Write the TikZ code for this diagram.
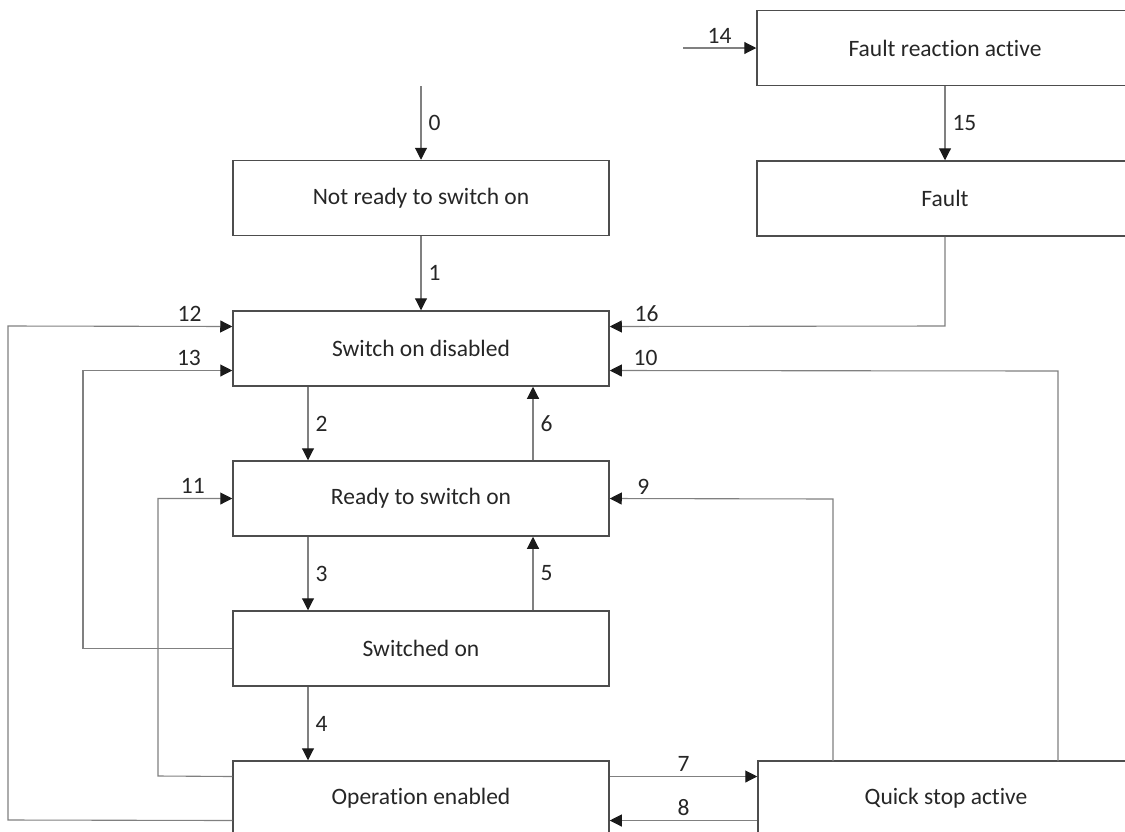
\documentclass[tikz,border=0pt]{standalone}
\usepackage{fontspec}
\setmainfont{Carlito}[Ligatures=NoCommon]
\usepackage{xcolor}
\usepackage{tikz}
\usetikzlibrary{arrows.meta,positioning,calc}
\definecolor{smbox}{HTML}{4D4D4D}
\definecolor{smline}{HTML}{808080}
\definecolor{smhead}{HTML}{1A1A1A}
\definecolor{smtext}{HTML}{262626}

\begin{document}
\begin{tikzpicture}[
  x=1pt,y=-1pt,
  every node/.style={font=\fontsize{23.5}{28}\selectfont,align=center,text=smtext},
  state/.style={draw=smbox,line width=1.5pt,minimum width=376pt,minimum height=75pt,inner sep=0pt},
  trans/.style={draw=smline,line width=1.1pt,-{Triangle[length=12pt,width=12pt,color=smhead]}},
  num/.style={inner sep=1pt}
]
\useasboundingbox (0,0) rectangle (1125,831);
% states
\node[state] (nrdy) at (421,198) {Not ready to switch on};
\node[state] (sod) at (421,348.5) {Switch on disabled};
\node[state] (rdy) at (421,498.5) {Ready to switch on};
\node[state] (swon) at (421,648.5) {Switched on};
\node[state] (opena) at (421,798.5) {Operation enabled};
\node[state] (fra) at (945,48) {Fault reaction active};
\node[state] (fault) at (945,198.5) {Fault};
\node[state] (qsa) at (946,798.5) {Quick stop active};
% free ends and columns
\coordinate (start0) at (421,86);
\coordinate (start14) at (683,48);
\coordinate (cdown) at (308,0);
\coordinate (cup) at (533,0);
% main chain
\draw[trans] (start0) -- node[right=6pt,num]{0} (nrdy.north);
\draw[trans] (nrdy.south) -- node[right=6pt,num]{1} (sod.north);
\draw[trans] (sod.south -| cdown) -- node[right=6pt,num]{2} (rdy.north -| cdown);
\draw[trans] (rdy.south -| cdown) -- node[right=6pt,num]{3} (swon.north -| cdown);
\draw[trans] (swon.south -| cdown) -- node[right=6pt,num]{4} (opena.north -| cdown);
\draw[trans] (swon.north -| cup) -- node[right=6pt,num]{5} (rdy.south -| cup);
\draw[trans] (rdy.north -| cup) -- node[right=6pt,num]{6} (sod.south -| cup);
\draw[trans] ([yshift=22pt]opena.east) -- node[above=3pt,num]{7} ([yshift=22pt]qsa.west);
\draw[trans] ([yshift=-22pt]qsa.west) -- node[above=3pt,num]{8} ([yshift=-22pt]opena.east);
% fault branch
\draw[trans] (start14) -- node[above=3pt,num]{14} (fra.west);
\draw[trans] (fra.south) -- node[right=6pt,num]{15} (fault.north);
\draw[trans] (fault.south) -- (945,326) -- node[above=3pt,pos=0.89,num]{16} ([yshift=22pt]sod.east);
% returns from quick stop
\draw[trans] (833,761) -- (833,499) -- node[above=3pt,pos=0.85,num]{9} (rdy.east);
\draw[trans] (1058,761) -- (1058,371) -- node[above=3pt,pos=0.92,num]{10} ([yshift=-22pt]sod.east);
% returns on the left
\draw[trans] ([yshift=22pt]opena.west) -- (158,776) -- (158,498.5) -- node[above=3pt,pos=0.47,num]{11} (rdy.west);
\draw[trans] ([yshift=-22pt]opena.west) -- (8,820) -- (8,326) -- node[above=3pt,pos=0.81,num]{12} ([yshift=22pt]sod.west);
\draw[trans] (swon.west) -- (83,648.5) -- (83,370.5) -- node[above=3pt,pos=0.71,num]{13} ([yshift=-22pt]sod.west);
\end{tikzpicture}
\end{document}
